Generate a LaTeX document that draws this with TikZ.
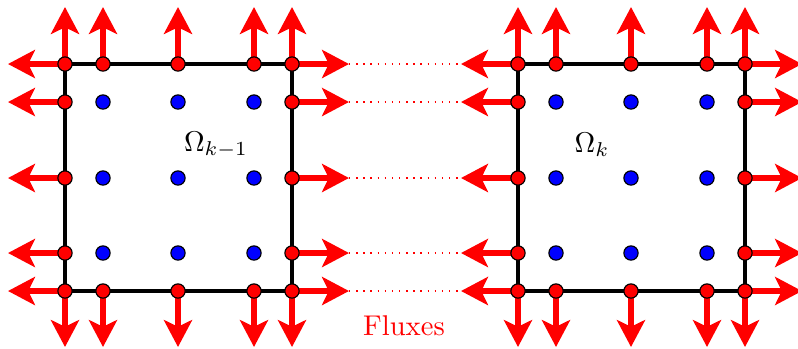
\documentclass[tikz,border=0pt]{standalone}
\usetikzlibrary{arrows.meta,backgrounds}
\begin{document}
\begin{tikzpicture}[x=0.35pt,y=-0.35pt,
  flux/.style={red, line width=2.4pt, -{Stealth[length=9.4pt,width=9.8pt,inset=2.3pt]}},
  edge/.style={black, line width=1.1pt},
  bdot/.style={circle, fill=red, draw=black, line width=0.4pt, inner sep=0pt, minimum size=5pt},
  idot/.style={circle, fill=blue, draw=black, line width=0.4pt, inner sep=0pt, minimum size=5pt},
  link/.style={red, dotted, line width=0.5pt}]
\useasboundingbox (0,0) rectangle (798,348);

% two spectral elements, each with 5x5 nodes
\foreach \p/\ox in {A/65,B/518}{
  % boundary nodes (red)
  \foreach \i/\dx in {0/0,1/38,2/113,3/189,4/227}{
    \node[bdot] (\p-\i-0) at ({\ox+\dx},64) {};
    \node[bdot] (\p-\i-4) at ({\ox+\dx},291) {};
    \coordinate (\p-up-\i) at ({\ox+\dx},7);
    \coordinate (\p-dn-\i) at ({\ox+\dx},347);
  }
  \foreach \j/\dy in {1/38,2/114,3/189}{
    \node[bdot] (\p-0-\j) at (\ox,{64+\dy}) {};
    \node[bdot] (\p-4-\j) at ({\ox+227},{64+\dy}) {};
  }
  \foreach \j/\dy in {0/0,1/38,2/114,3/189,4/227}{
    \coordinate (\p-l-\j) at ({\ox-57},{64+\dy});
    \coordinate (\p-r-\j) at ({\ox+227+57},{64+\dy});
  }
  % interior nodes (blue)
  \foreach \i/\dx in {1/38,2/113,3/189}
    \foreach \j/\dy in {1/38,2/114,3/189}
      \node[idot] (\p-\i-\j) at ({\ox+\dx},{64+\dy}) {};
}

\begin{scope}[on background layer]
  \foreach \p in {A,B}{
    \foreach \i in {0,...,4}{
      \draw[flux] (\p-\i-0.center) -- (\p-up-\i);
      \draw[flux] (\p-\i-4.center) -- (\p-dn-\i);
      \draw[flux] (\p-0-\i.center) -- (\p-l-\i);
      \draw[flux] (\p-4-\i.center) -- (\p-r-\i);
    }
    \draw[edge] (\p-0-0.center) rectangle (\p-4-4.center);
  }
  \foreach \j in {0,...,4}
    \draw[link] (A-r-\j) -- (B-l-\j);
\end{scope}

\node (omA) at (216,145) {$\Omega_{k-1}$};
\node (omB) at (592,145) {$\Omega_{k}$};
\node[red] (flux) at (404,326) {Fluxes};
\end{tikzpicture}
\end{document}
